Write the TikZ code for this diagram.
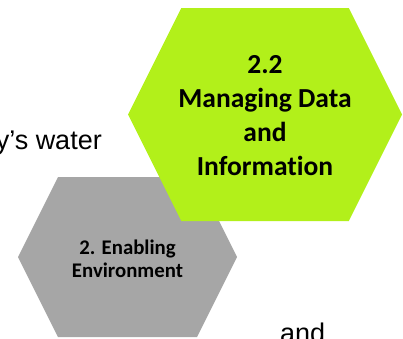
\documentclass[tikz,border=0pt]{standalone}
\usepackage{fontspec}
\setmainfont{Liberation Sans}
\newfontfamily\hexfont[Ligatures=NoCommon]{Carlito}
\usepackage{tikz}
\usetikzlibrary{positioning}
\definecolor{hxlime}{HTML}{B2F01A}
\definecolor{hxgrey}{HTML}{A6A6A6}

\begin{document}
\begin{tikzpicture}[x=1pt,y=-1pt,
  hexlabel/.style={align=center,inner sep=0pt,text=black},
  bodytext/.style={inner sep=0pt,font=\fontsize{27}{32}\selectfont}]
  \useasboundingbox (0,0) rectangle (403,338);
  \clip (0,0) rectangle (403,338);
  % running text of the page, cut by the frame
  \node[bodytext,anchor=base east] (water) at (102,149) {y’s water};
  \node[bodytext,anchor=base west] (andword) at (280,342) {and};
  % grey one first, the lime one lies over it
  \foreach \n/\c/\x/\y/\w/\h/\fs/\bs/\lab in {
    enabling/hxgrey/127.5/257/109.5/80/20.8/23/{2. Enabling\\Environment},
    managing/hxlime/265/114.5/137/106.5/27.5/34/{2.2\\Managing Data\\and\\Information}}
  {
    \fill[\c] ({\x-\w+\h/2},{\y-\h}) -- ({\x+\w-\h/2},{\y-\h}) -- ({\x+\w},\y)
      -- ({\x+\w-\h/2},{\y+\h}) -- ({\x-\w+\h/2},{\y+\h}) -- ({\x-\w},\y) -- cycle;
    \node[hexlabel,font=\hexfont\bfseries\fontsize{\fs}{\bs}\selectfont] (\n) at (\x,{\y+1.5}) {\lab};
  }
\end{tikzpicture}
\end{document}
